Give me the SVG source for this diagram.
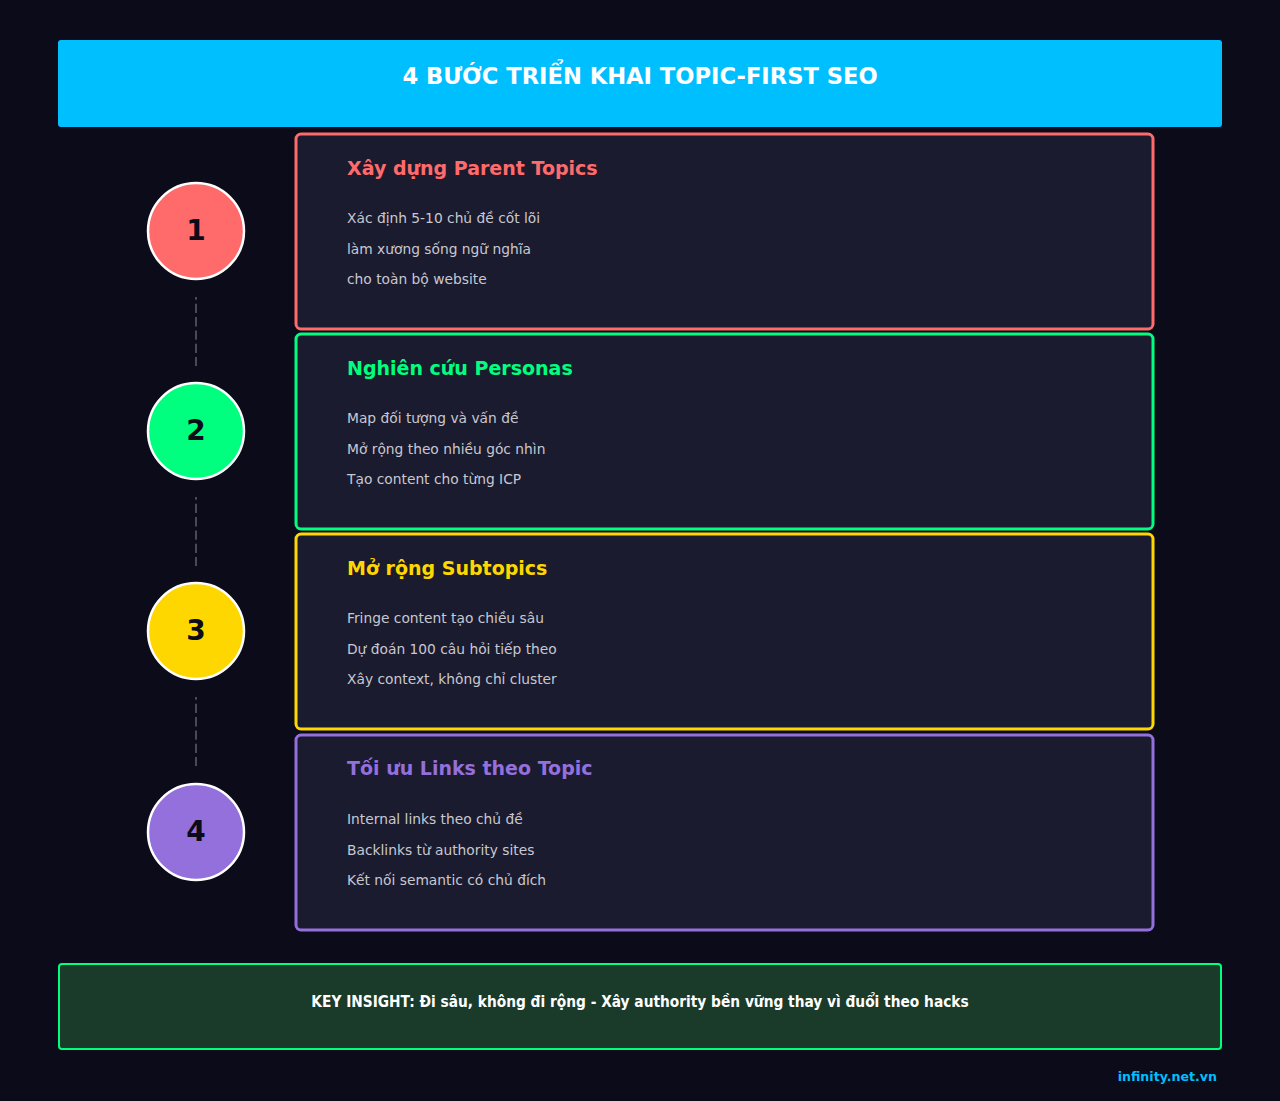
<svg xmlns="http://www.w3.org/2000/svg" width="1280" height="1101" viewBox="0 0 1280 1101">
<style>
text{font-family:"DejaVu Sans","Liberation Sans",sans-serif}
.title{font-size:22.6px;font-weight:bold;fill:#ffffff}
.num{font-size:28px;font-weight:bold;fill:#0b0b1a}
.ct{font-size:19px;font-weight:bold}
.body{font-size:13.8px;fill:#c8c8d0}
.card{fill:#1b1b2f;stroke-width:3}
.circ{stroke:#ffffff;stroke-width:2.5}
.dash{stroke:#4a4a55;stroke-width:2;stroke-dasharray:9.3,4;stroke-dashoffset:6.5}
.foot{font-size:15.3px;font-weight:bold;fill:#ffffff;font-stretch:condensed}
.site{font-size:12.6px;font-weight:bold;fill:#00bfff}
</style>
<rect width="1280" height="1101" fill="#0b0b1a"/>
<g id="header">
<rect x="58" y="40" width="1164" height="87" rx="3" fill="#00bfff"/>
<text class="title" x="640" y="84" text-anchor="middle">4 BƯỚC TRIỂN KHAI TOPIC-FIRST SEO</text>
</g>
<g id="connectors">
<line class="dash" x1="196" y1="297" x2="196" y2="366"/>
<line class="dash" x1="196" y1="497" x2="196" y2="566"/>
<line class="dash" x1="196" y1="697" x2="196" y2="766"/>
</g>
<g id="step1">
<rect class="card" x="296" y="134" width="857" height="195" rx="5" stroke="#ff6b6b"/>
<circle class="circ" cx="196" cy="231" r="48" fill="#ff6b6b"/>
<text class="num" x="196" y="240" text-anchor="middle">1</text>
<text class="ct" x="347" y="175" fill="#ff6b6b">Xây dựng Parent Topics</text>
<text class="body" x="347" y="223">Xác định 5-10 chủ đề cốt lõi</text>
<text class="body" x="347" y="254">làm xương sống ngữ nghĩa</text>
<text class="body" x="347" y="284">cho toàn bộ website</text>
</g>
<g id="step2">
<rect class="card" x="296" y="334" width="857" height="195" rx="5" stroke="#00ff7f"/>
<circle class="circ" cx="196" cy="431" r="48" fill="#00ff7f"/>
<text class="num" x="196" y="440" text-anchor="middle">2</text>
<text class="ct" x="347" y="375" fill="#00ff7f">Nghiên cứu Personas</text>
<text class="body" x="347" y="423">Map đối tượng và vấn đề</text>
<text class="body" x="347" y="454">Mở rộng theo nhiều góc nhìn</text>
<text class="body" x="347" y="484">Tạo content cho từng ICP</text>
</g>
<g id="step3">
<rect class="card" x="296" y="534" width="857" height="195" rx="5" stroke="#ffd700"/>
<circle class="circ" cx="196" cy="631" r="48" fill="#ffd700"/>
<text class="num" x="196" y="640" text-anchor="middle">3</text>
<text class="ct" x="347" y="575" fill="#ffd700">Mở rộng Subtopics</text>
<text class="body" x="347" y="623">Fringe content tạo chiều sâu</text>
<text class="body" x="347" y="654">Dự đoán 100 câu hỏi tiếp theo</text>
<text class="body" x="347" y="684">Xây context, không chỉ cluster</text>
</g>
<g id="step4">
<rect class="card" x="296" y="735" width="857" height="195" rx="5" stroke="#9370db"/>
<circle class="circ" cx="196" cy="832" r="48" fill="#9370db"/>
<text class="num" x="196" y="841" text-anchor="middle">4</text>
<text class="ct" x="347" y="775" fill="#9370db">Tối ưu Links theo Topic</text>
<text class="body" x="347" y="824">Internal links theo chủ đề</text>
<text class="body" x="347" y="855">Backlinks từ authority sites</text>
<text class="body" x="347" y="885">Kết nối semantic có chủ đích</text>
</g>
<g id="insight">
<rect x="59" y="964" width="1162" height="85" rx="3" fill="#1a3a2a" stroke="#00ff7f" stroke-width="2"/>
<text class="foot" x="640" y="1007" text-anchor="middle">KEY INSIGHT: Đi sâu, không đi rộng - Xây authority bền vững thay vì đuổi theo hacks</text>
</g>
<text class="site" x="1217" y="1081" text-anchor="end">infinity.net.vn</text>
</svg>
